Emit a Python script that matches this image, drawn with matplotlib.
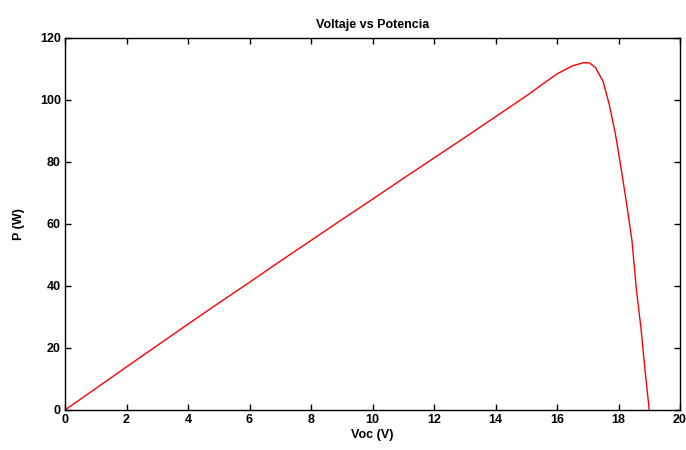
import matplotlib
matplotlib.use("Agg")
from matplotlib import pyplot as plt

# Voltage (V) and power (W)
voc = [0, 1, 2, 3, 4, 5, 6, 7, 8, 9, 10, 11, 12, 13, 14, 15, 15.5, 16, 16.5,
       16.85, 17.05, 17.25, 17.5, 17.7, 17.9, 18.1, 18.28, 18.44, 18.58, 18.73, 18.86, 19.0]
pot = [0, 6.95, 13.9, 20.8, 27.7, 34.5, 41.2, 48.0, 54.7, 61.4, 68.0, 74.7, 81.3, 87.9, 94.6, 101.3, 104.9, 108.4, 111.0,
       112.0, 112.0, 110.5, 106.0, 98.5, 89.0, 77.0, 65.5, 54.5, 39.0, 26.5, 13.0, 0.0]

xticks = [0, 2, 4, 6, 8, 10, 12, 14, 16, 18, 20]
yticks = [0, 20, 40, 60, 80, 100, 120]

plt.rcParams['font.family'] = ['Liberation Sans', 'DejaVu Sans']
plt.rcParams['font.weight'] = 'bold'

fig = plt.figure(figsize=(6.86, 4.5), dpi=100)
ax = fig.add_axes([65 / 686, 1 - 410 / 450, 615 / 686, 372 / 450])

ax.plot(voc, pot, color='red', linewidth=1.0)

ax.set_xlim(0, 20)
ax.set_ylim(0, 120)
ax.set_xticks(xticks)
ax.set_yticks(yticks)
ax.tick_params(direction='in', top=True, right=True, length=4, width=1,
               labelsize=9, pad=3)
for lbl in ax.get_xticklabels() + ax.get_yticklabels():
    lbl.set_fontweight('bold')
for sp in ax.spines.values():
    sp.set_linewidth(1.0)

ax.set_title("Voltaje vs Potencia", fontsize=9, fontweight='bold', pad=7)
ax.set_xlabel("Voc (V)", fontsize=9, fontweight='bold', labelpad=2)
ax.set_ylabel("P (W)", fontsize=9, fontweight='bold', labelpad=11)

fig.savefig("out.png", dpi=100)
